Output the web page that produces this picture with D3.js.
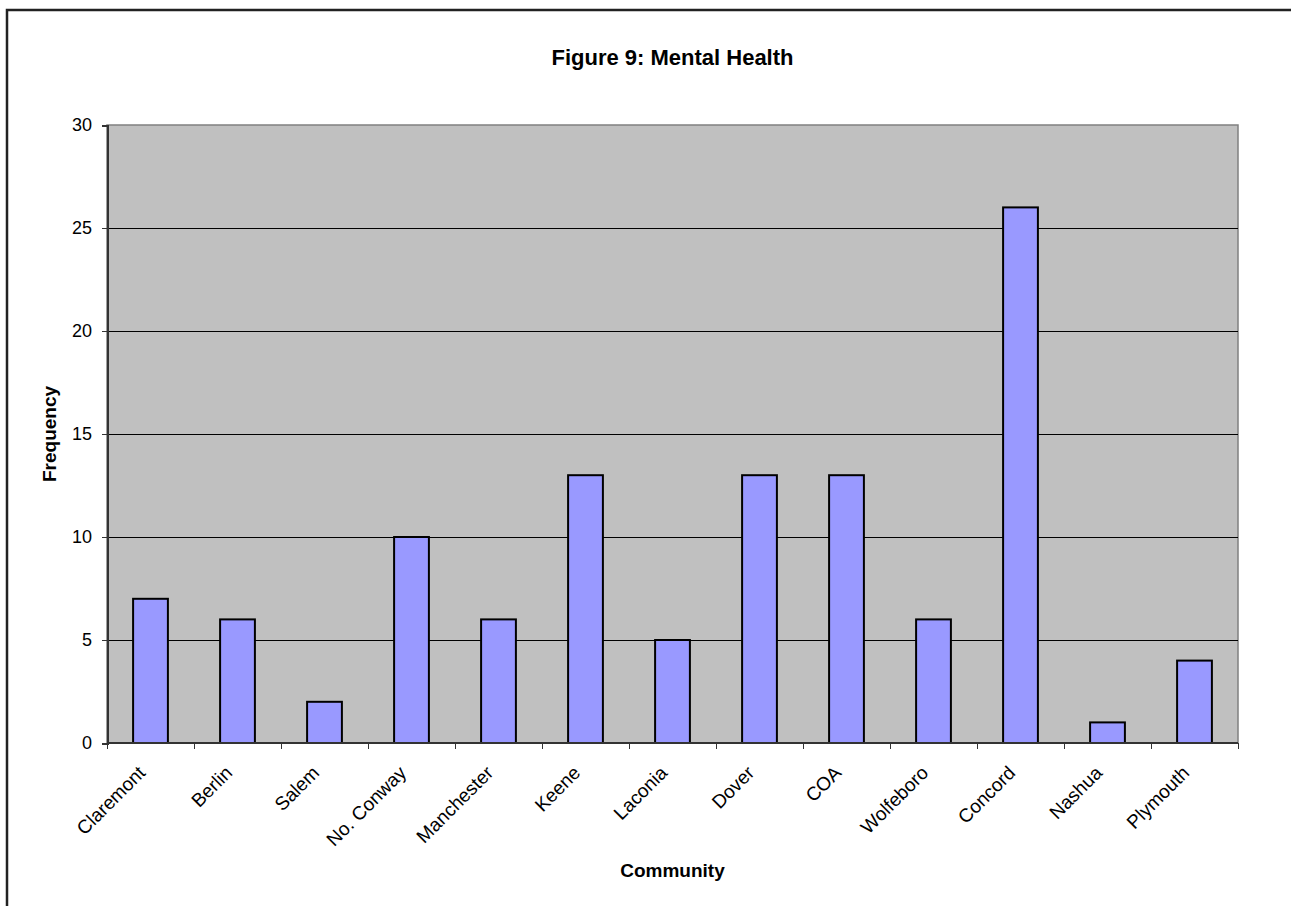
<!DOCTYPE html>
<html>
<head>
<meta charset="utf-8">
<title>Figure 9: Mental Health</title>
<script src="https://d3js.org/d3.v7.min.js"></script>
<style>
    html, body { margin: 0; background: #fff; overflow: hidden; }
    svg { display: block; }
    svg text { font-family: "Liberation Sans", Arial, sans-serif; fill: #000; }
    .axis path, .axis line { stroke: #333; shape-rendering: crispEdges; }
    .grid line { stroke: #000; shape-rendering: crispEdges; }
    .bar { fill: #9999ff; stroke: #000; stroke-width: 2; }
</style>
</head>
<body>
<div id="chart"></div>
<script>
    // data
    var communities = ["Claremont", "Berlin", "Salem", "No. Conway", "Manchester", "Keene",
                       "Laconia", "Dover", "COA", "Wolfeboro", "Concord", "Nashua", "Plymouth"];
    var frequency = [7, 6, 2, 10, 6, 13, 5, 13, 13, 6, 26, 1, 4];
    var yTicks = [0, 5, 10, 15, 20, 25, 30];

    var W = 1291, H = 906;
    var plot = { left: 107, right: 1238, top: 125, bottom: 743 };

    var svg = d3.select("#chart").append("svg")
        .attr("width", W)
        .attr("height", H);

    // outer frame of the figure (right/bottom edges fall outside the page)
    svg.append("rect")
        .attr("x", 7).attr("y", 10)
        .attr("width", W + 40).attr("height", H + 40)
        .attr("fill", "#fff")
        .attr("stroke", "#222")
        .attr("stroke-width", 2.5);

    var x = d3.scaleBand()
        .domain(communities)
        .range([plot.left, plot.right])
        .padding(0);

    var y = d3.scaleLinear()
        .domain([0, 30])
        .range([plot.bottom, plot.top]);

    // plot background
    svg.append("rect")
        .attr("x", plot.left).attr("y", plot.top)
        .attr("width", plot.right - plot.left)
        .attr("height", plot.bottom - plot.top)
        .attr("fill", "#c0c0c0")
        .attr("stroke", "#808080")
        .attr("stroke-width", 1.5);

    // gridlines
    svg.append("g").attr("class", "grid")
        .selectAll("line")
        .data(yTicks.filter(function(d) { return d > 0 && d < 30; }))
        .enter().append("line")
        .attr("x1", plot.left).attr("x2", plot.right)
        .attr("y1", function(d) { return Math.round(y(d)) + 0.5; })
        .attr("y2", function(d) { return Math.round(y(d)) + 0.5; });

    // bars
    var barW = x.bandwidth() * 0.4;
    svg.append("g").selectAll("rect")
        .data(frequency)
        .enter().append("rect")
        .attr("class", "bar")
        .attr("x", function(d, i) { return x(communities[i]) + (x.bandwidth() - barW) / 2; })
        .attr("y", function(d) { return y(d); })
        .attr("width", barW)
        .attr("height", function(d) { return y(0) - y(d); });

    // y axis
    var yAxis = d3.axisLeft(y).tickValues(yTicks).tickSize(5).tickPadding(10);
    var yG = svg.append("g")
        .attr("class", "axis")
        .attr("transform", "translate(" + plot.left + ",0)")
        .call(yAxis);
    yG.select(".domain").attr("stroke-width", 2);
    yG.selectAll("text").style("font-size", "18px");

    // x axis: ticks on band boundaries
    var xG = svg.append("g").attr("class", "axis");
    xG.append("line")
        .attr("x1", plot.left).attr("x2", plot.right)
        .attr("y1", plot.bottom).attr("y2", plot.bottom)
        .attr("stroke-width", 2);
    var bounds = communities.map(function(c) { return x(c); }).concat([plot.right]);
    xG.selectAll(".tk")
        .data(bounds)
        .enter().append("line")
        .attr("class", "tk")
        .attr("x1", function(d) { return Math.round(d) + 0.5; })
        .attr("x2", function(d) { return Math.round(d) + 0.5; })
        .attr("y1", plot.bottom).attr("y2", plot.bottom + 6);

    xG.selectAll("text")
        .data(communities)
        .enter().append("text")
        .attr("transform", function(d) {
            return "translate(" + (x(d) + x.bandwidth() / 2 - 4) + "," + (plot.bottom + 31) + ") rotate(-45)";
        })
        .attr("text-anchor", "end")
        .style("font-size", "19px")
        .text(function(d) { return d; });

    // titles
    svg.append("text")
        .attr("x", (plot.left + plot.right) / 2)
        .attr("y", 65)
        .attr("text-anchor", "middle")
        .style("font-size", "22px")
        .style("font-weight", "bold")
        .text("Figure 9: Mental Health");

    svg.append("text")
        .attr("x", (plot.left + plot.right) / 2)
        .attr("y", 877)
        .attr("text-anchor", "middle")
        .style("font-size", "19px")
        .style("font-weight", "bold")
        .text("Community");

    svg.append("text")
        .attr("transform", "translate(56," + ((plot.top + plot.bottom) / 2) + ") rotate(-90)")
        .attr("text-anchor", "middle")
        .style("font-size", "19px")
        .style("font-weight", "bold")
        .text("Frequency");
</script>
</body>
</html>
